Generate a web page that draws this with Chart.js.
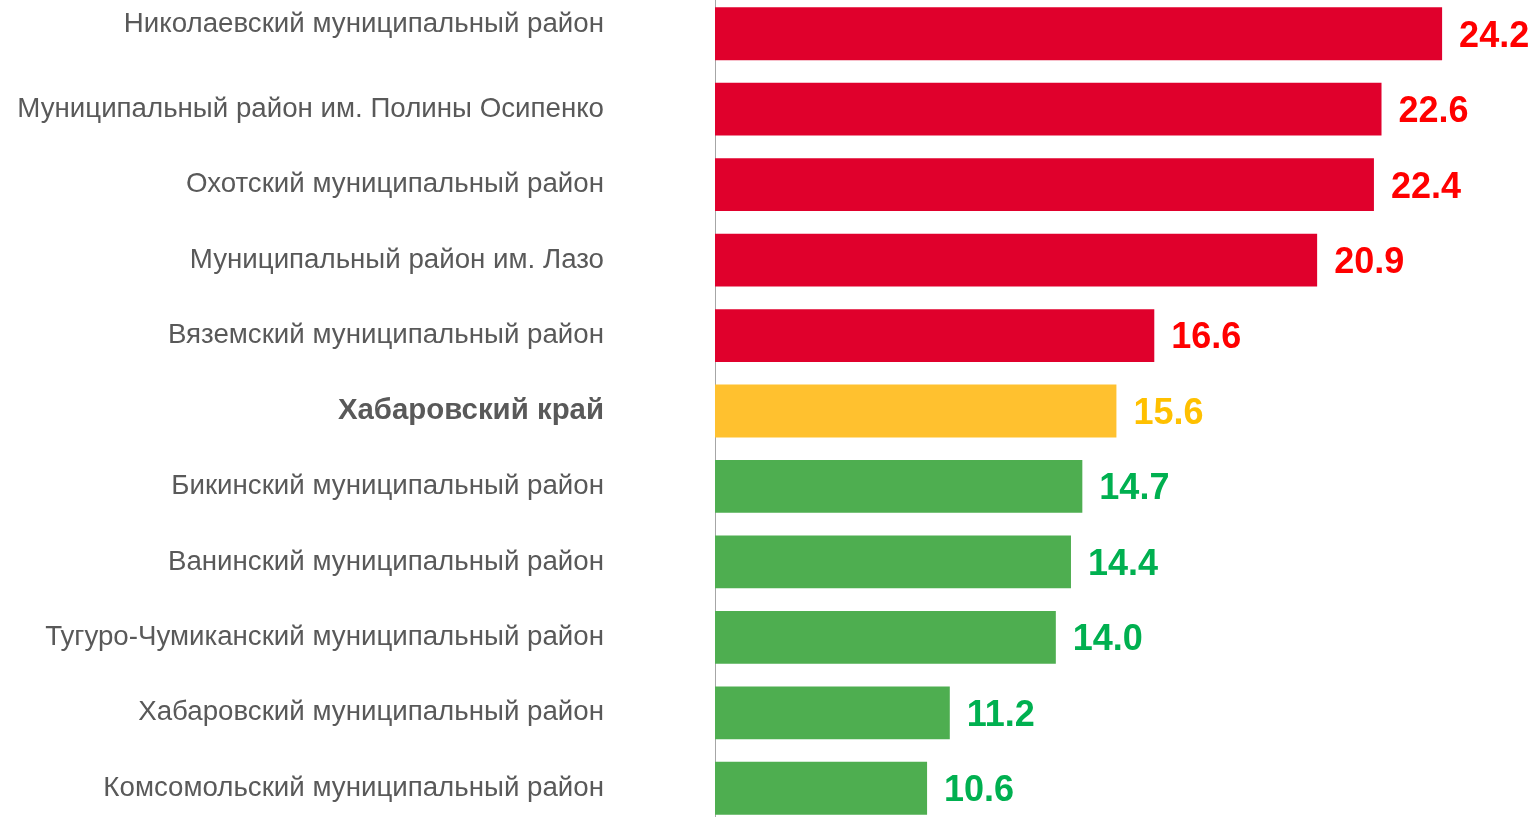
<!DOCTYPE html>
<html>
<head>
<meta charset="utf-8">
<script src="https://cdn.jsdelivr.net/npm/chart.js@4/dist/chart.umd.min.js"></script>
<style>
  html, body { margin: 0; padding: 0; background: #fff; overflow: hidden; }
  #wrap { position: absolute; left: 0; top: -4px; width: 1537px; height: 830px; }
</style>
</head>
<body>
<div id="wrap"><canvas id="c"></canvas></div>
<script>
const categories = [
  "Николаевский муниципальный район",
  "Муниципальный район им. Полины Осипенко",
  "Охотский муниципальный район",
  "Муниципальный район им. Лазо",
  "Вяземский муниципальный район",
  "Хабаровский край",
  "Бикинский муниципальный район",
  "Ванинский муниципальный район",
  "Тугуро-Чумиканский муниципальный район",
  "Хабаровский муниципальный район",
  "Комсомольский муниципальный район"
];
const values = [24.2, 22.6, 22.4, 20.9, 16.6, 15.6, 14.7, 14.4, 14.0, 11.2, 10.6];
const regionName = "Хабаровский край";

const regionIdx = categories.indexOf(regionName);
const regionVal = values[regionIdx];
const barColor = (i) => i === regionIdx ? '#FFC12F' : (values[i] > regionVal ? '#E0002C' : '#4EAE50');
const textColor = (i) => i === regionIdx ? '#FFC000' : (values[i] > regionVal ? '#FF0000' : '#00B050');

const valueLabels = {
  id: 'valueLabels',
  afterDatasetsDraw(chart) {
    const ctx = chart.ctx;
    const meta = chart.getDatasetMeta(0);
    ctx.save();
    ctx.font = 'bold 36px "Liberation Sans", Arial, sans-serif';
    ctx.textAlign = 'left';
    ctx.textBaseline = 'middle';
    meta.data.forEach((bar, i) => {
      ctx.fillStyle = textColor(i);
      ctx.fillText(values[i].toFixed(1), bar.x + 17, bar.y + 3);
    });
    ctx.restore();
  }
};

new Chart(document.getElementById('c'), {
  type: 'bar',
  data: {
    labels: categories.map((c, i) => i === 0 ? [c, ""] : c),
    datasets: [{
      data: values,
      backgroundColor: values.map((v, i) => barColor(i)),
      borderWidth: 0,
      barPercentage: 0.7,
      categoryPercentage: 1.0
    }]
  },
  options: {
    indexAxis: 'y',
    responsive: true,
    maintainAspectRatio: false,
    animation: false,
    layout: { padding: { left: 0, right: 64.6, top: 0, bottom: 0 } },
    plugins: { legend: { display: false }, tooltip: { enabled: false } },
    scales: {
      x: { display: false, min: 5, max: 25 },
      y: {
        grid: { display: false, drawTicks: false },
        border: { display: true, color: '#A6A6A6', width: 1 },
        afterFit(scale) { scale.width = 715; scale.paddingTop = 0; scale.paddingBottom = 0; },
        ticks: {
          padding: 111,
          color: '#595959',
          font: (ctx) => ({
            family: '"Liberation Sans", Arial, sans-serif',
            size: ctx.index === regionIdx ? 29.4 : 27.7,
            weight: ctx.index === regionIdx ? 'bold' : 'normal',
            lineHeight: ctx.index === 0 ? '18px' : 1.2
          })
        }
      }
    }
  },
  plugins: [valueLabels]
});
</script>
</body>
</html>
